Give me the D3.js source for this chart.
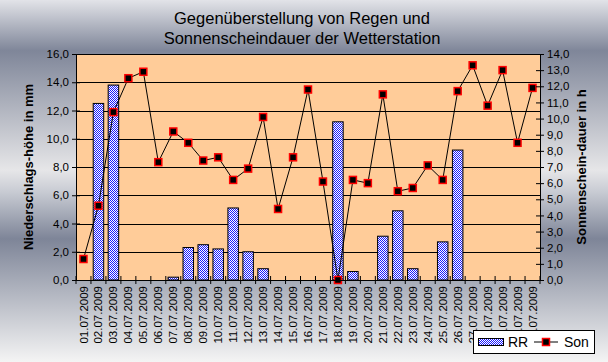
<!DOCTYPE html>
<html>
<head>
<meta charset="UTF-8">
<title>Regen und Sonnenscheindauer</title>
<style>
  body { margin: 0; padding: 0; }
  svg { display: block; font-family: "Liberation Sans", Arial, sans-serif; }
  .tick text { font-size: 11.5px; fill: #000; }
  .axis-title { font-size: 13px; font-weight: bold; text-anchor: middle; }
  .title { font-size: 16.5px; text-anchor: middle; }
</style>
</head>
<body>
<div id="chart"></div>
<script src="https://d3js.org/d3.v7.min.js"></script>
<script>

// days of July 2009
const days = ["01.07.2009", "02.07.2009", "03.07.2009", "04.07.2009", "05.07.2009", "06.07.2009",
  "07.07.2009", "08.07.2009", "09.07.2009", "10.07.2009", "11.07.2009", "12.07.2009",
  "13.07.2009", "14.07.2009", "15.07.2009", "16.07.2009", "17.07.2009", "18.07.2009",
  "19.07.2009", "20.07.2009", "21.07.2009", "22.07.2009", "23.07.2009", "24.07.2009",
  "25.07.2009", "26.07.2009", "27.07.2009", "28.07.2009", "29.07.2009", "30.07.2009",
  "31.07.2009"];

// RR = Niederschlag in mm
const rain = [0, 12.5, 13.8, 0, 0, 0, 0.2, 2.3, 2.5, 2.2, 5.1, 2.0, 0.8, 0, 0, 0, 0,
  11.2, 0.6, 0, 3.1, 4.9, 0.8, 0, 2.7, 9.2, 0, 0, 0, 0, 0];

// Son = Sonnenscheindauer in h
const sun = [1.3, 4.6, 10.4, 12.5, 12.9, 7.3, 9.2, 8.5, 7.4, 7.6, 6.2, 6.9, 10.1, 4.4,
  7.6, 11.8, 6.1, 0, 6.2, 6.0, 11.5, 5.5, 5.7, 7.1, 6.2, 11.7, 13.3, 10.8, 13.0, 8.5, 11.9];

const leftTicks = [0, 2, 4, 6, 8, 10, 12, 14, 16];
const rightTicks = [0, 1, 2, 3, 4, 5, 6, 7, 8, 9, 10, 11, 12, 13, 14];

const width = 608, height = 362;
const m = {left: 76, right: 540, top: 54, bottom: 280};
const fmt = d => d.toFixed(1).replace(".", ",");

const svg = d3.select("#chart").append("svg")
  .attr("width", width).attr("height", height);

const defs = svg.append("defs");
const bg = defs.append("linearGradient").attr("id", "bg")
  .attr("x1", 0).attr("y1", 0).attr("x2", 0).attr("y2", 1);
[[0, "#e2e3e8"], [0.14, "#7f8699"], [0.47, "#e6e6e8"], [0.53, "#c8cbd3"],
 [0.66, "#7e8598"], [1, "#f4f4f4"]].forEach(s =>
  bg.append("stop").attr("offset", s[0]).attr("stop-color", s[1]));

const pat = defs.append("pattern").attr("id", "check")
  .attr("width", 2).attr("height", 2).attr("patternUnits", "userSpaceOnUse");
pat.append("rect").attr("width", 2).attr("height", 2).attr("fill", "#fff");
pat.append("rect").attr("width", 1).attr("height", 1).attr("fill", "#1a1aff");
pat.append("rect").attr("x", 1).attr("y", 1).attr("width", 1).attr("height", 1).attr("fill", "#1a1aff");

svg.append("rect").attr("width", width).attr("height", height).attr("fill", "url(#bg)");

const x = d3.scaleBand().domain(days).range([m.left, m.right]);
const yL = d3.scaleLinear().domain([0, 16]).range([m.bottom, m.top]);
const yR = d3.scaleLinear().domain([0, 14]).range([m.bottom, m.top]);

// plot area
svg.append("rect")
  .attr("x", m.left).attr("y", m.top)
  .attr("width", m.right - m.left).attr("height", m.bottom - m.top)
  .attr("fill", "#ffcc99");

// grid lines
svg.append("g").selectAll("line").data(leftTicks.filter(d => d > 0)).join("line")
  .attr("x1", m.left).attr("x2", m.right)
  .attr("y1", d => Math.round(yL(d)) + 0.5).attr("y2", d => Math.round(yL(d)) + 0.5)
  .attr("stroke", "#000");

// bars
const bw = 10.5;
svg.append("g").selectAll("rect").data(days.map((d, i) => ({d, v: rain[i]})).filter(e => e.v > 0))
  .join("rect")
  .attr("x", e => x(e.d) + (x.bandwidth() - bw) / 2)
  .attr("y", e => yL(e.v))
  .attr("width", bw)
  .attr("height", e => m.bottom - yL(e.v))
  .attr("fill", "url(#check)")
  .attr("stroke", "#000").attr("stroke-width", 1);

// sunshine line
const pts = days.map((d, i) => [x(d) + x.bandwidth() / 2, yR(sun[i])]);
svg.append("path")
  .attr("d", d3.line()(pts))
  .attr("fill", "none").attr("stroke", "#000").attr("stroke-width", 1);

svg.append("g").selectAll("rect").data(pts).join("rect")
  .attr("x", p => p[0] - 3.5).attr("y", p => p[1] - 3.5)
  .attr("width", 7).attr("height", 7)
  .attr("fill", "#000").attr("stroke", "#ff0000").attr("stroke-width", 1.5);

// axes
const axL = svg.append("g").attr("transform", `translate(${m.left},0)`)
  .call(d3.axisLeft(yL).tickValues(leftTicks).tickFormat(fmt).tickSize(4).tickSizeOuter(0));
axL.selectAll(".tick line").attr("x2", 4).attr("x1", -4);

const axR = svg.append("g").attr("transform", `translate(${m.right},0)`)
  .call(d3.axisRight(yR).tickValues(rightTicks).tickFormat(fmt).tickSize(4).tickSizeOuter(0));
axR.selectAll(".tick line").attr("x1", -4).attr("x2", 4);
axR.selectAll(".tick text").attr("x", 7);

const axB = svg.append("g").attr("transform", `translate(0,${m.bottom})`)
  .call(d3.axisBottom(x).tickSize(0).tickSizeOuter(0));
axB.selectAll(".tick text")
  .attr("transform", "rotate(-90)")
  .attr("text-anchor", "end")
  .attr("x", -6).attr("y", 0).attr("dy", "0.35em")
  .style("font-size", "11.5px");
axB.selectAll(".boundary").data(d3.range(days.length + 1)).join("line")
  .attr("class", "boundary")
  .attr("x1", i => m.left + i * x.step()).attr("x2", i => m.left + i * x.step())
  .attr("y1", -4).attr("y2", 4).attr("stroke", "#000");

svg.selectAll(".domain").attr("stroke", "#000");

// top border of plot
svg.append("line").attr("x1", m.left).attr("x2", m.right)
  .attr("y1", m.top + 0.5).attr("y2", m.top + 0.5).attr("stroke", "#000");

// titles
svg.append("text").attr("class", "title").attr("x", 302).attr("y", 24)
  .text("Gegenüberstellung von Regen und");
svg.append("text").attr("class", "title").attr("x", 302).attr("y", 44)
  .text("Sonnenscheindauer der Wetterstation");

svg.append("text").attr("class", "axis-title")
  .attr("transform", "translate(33,167) rotate(-90)")
  .text("Niederschlags-höhe in mm");
svg.append("text").attr("class", "axis-title")
  .attr("transform", "translate(586,167) rotate(-90)")
  .text("Sonnenschein-dauer in h");

// legend
const lg = svg.append("g").attr("transform", "translate(473,330)");
lg.append("rect").attr("x", 0.5).attr("y", 0.5).attr("width", 121).attr("height", 23)
  .attr("fill", "#fff").attr("stroke", "#000");
lg.append("rect").attr("x", 5.5).attr("y", 8.5).attr("width", 25).attr("height", 7)
  .attr("fill", "url(#check)").attr("stroke", "#000");
lg.append("text").attr("x", 35).attr("y", 17).style("font-size", "14px").text("RR");
lg.append("line").attr("x1", 61).attr("x2", 85).attr("y1", 12).attr("y2", 12).attr("stroke", "#000");
lg.append("rect").attr("x", 69.5).attr("y", 8.5).attr("width", 7).attr("height", 7)
  .attr("fill", "#000").attr("stroke", "#ff0000").attr("stroke-width", 1.5);
lg.append("text").attr("x", 91).attr("y", 17).style("font-size", "14px").text("Son");

</script>
</body>
</html>
